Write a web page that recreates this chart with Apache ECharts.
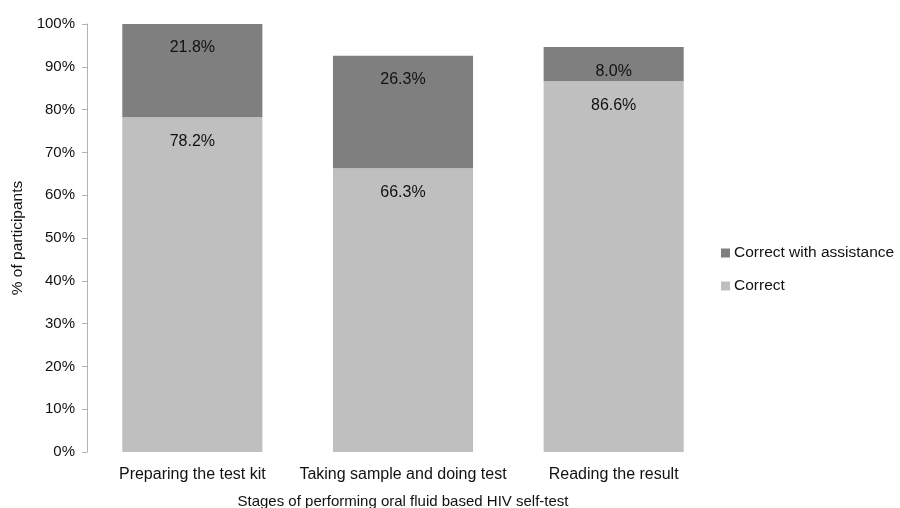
<!DOCTYPE html>
<html><head><meta charset="utf-8">
<script src="https://cdn.jsdelivr.net/npm/echarts@6/dist/echarts.min.js"></script>
<style>html,body{margin:0;padding:0;background:#fff}#c{width:900px;height:508px}</style>
</head><body><div id="c"></div>
<script>
const categories = ['Preparing the test kit', 'Taking sample and doing test', 'Reading the result'];
const correct = [78.2, 66.3, 86.6];
const correctWithAssistance = [21.8, 26.3, 8.0];
const seriesNames = ['Correct', 'Correct with assistance'];
const yAxisTitle = '% of participants';
const xAxisTitle = 'Stages of performing oral fluid based HIV self-test';

const font = 'Liberation Sans, Arial, Helvetica, sans-serif';
const chart = echarts.init(document.getElementById('c'), null, {renderer: 'canvas'});
const labelCfg = {
  show: true, position: 'insideTop', distance: 16,
  color: '#111', fontSize: 16, fontFamily: font,
  formatter: p => p.value.toFixed(1) + '%'
};
chart.setOption({
  animation: false,
  textStyle: {fontFamily: font},
  grid: {left: 87, right: 181, top: 24, bottom: 56, containLabel: false, outerBoundsMode: 'none'},
  legend: {
    orient: 'vertical', left: 716, top: 240,
    itemWidth: 9, itemHeight: 9, itemGap: 17,
    data: [seriesNames[1], seriesNames[0]],
    icon: 'rect',
    textStyle: {fontSize: 15.5, color: '#111', fontFamily: font, padding: [0, 0, 0, -1]}
  },
  xAxis: {
    type: 'category', data: categories,
    axisLine: {show: false}, axisTick: {show: false},
    axisLabel: {color: '#111', fontSize: 16, margin: 15, fontFamily: font, interval: 0},
    name: xAxisTitle, nameLocation: 'middle', nameGap: 42,
    nameTextStyle: {color: '#111', fontSize: 15, fontFamily: font}
  },
  yAxis: {
    type: 'value', min: 0, max: 100, interval: 10,
    axisLine: {show: true, lineStyle: {color: '#b3b3b3', width: 1}},
    axisTick: {show: true, length: 5, lineStyle: {color: '#b3b3b3'}},
    splitLine: {show: false},
    axisLabel: {color: '#111', fontSize: 15, margin: 12, fontFamily: font, formatter: v => v + '%'},
    name: yAxisTitle, nameLocation: 'middle', nameGap: 55, nameRotate: 90,
    nameTextStyle: {color: '#111', fontSize: 15.5, fontFamily: font}
  },
  series: [
    {name: seriesNames[0], type: 'bar', stack: 's', data: correct, barWidth: '66.5%',
     itemStyle: {color: '#bfbfbf'}, label: labelCfg},
    {name: seriesNames[1], type: 'bar', stack: 's', data: correctWithAssistance, barWidth: '66.5%',
     itemStyle: {color: '#7f7f7f'}, label: labelCfg}
  ]
});
</script></body></html>
